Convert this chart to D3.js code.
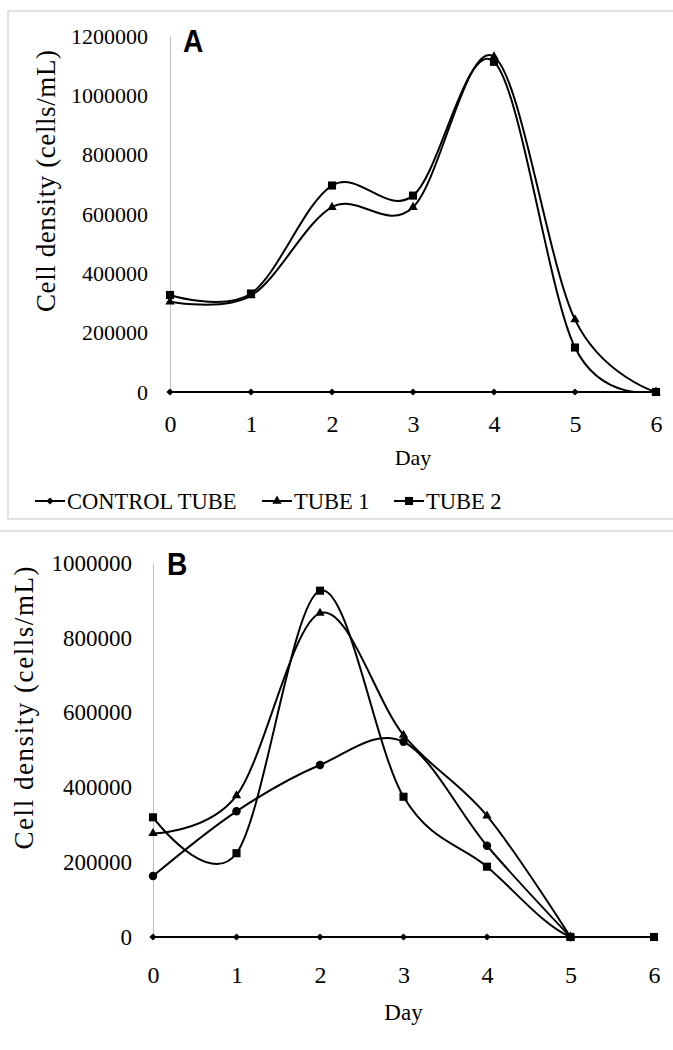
<!DOCTYPE html>
<html>
<head>
<meta charset="utf-8">
<script src="https://cdn.jsdelivr.net/npm/d3@7"></script>
<style>
  html, body { margin: 0; padding: 0; background: #fff; }
  svg { display: block; }
  text { font-family: "Liberation Serif", "Times New Roman", serif; fill: #000; }
</style>
</head>
<body>
<svg id="chart" width="673" height="1050"></svg>
<script>
// ---------- DATA ----------
const days = [0, 1, 2, 3, 4, 5, 6];

// Panel A
const aControl = [0, 0, 0, 0, 0, 0, 0];
const aTube1   = [304000, 325000, 623000, 623000, 1130000, 244000, 0];
const aTube2   = [327000, 332000, 696000, 662000, 1113000, 150000, 0];
const aTicks   = [0, 200000, 400000, 600000, 800000, 1000000, 1200000];

// Panel B
const bControl = [0, 0, 0, 0, 0, 0, 0];
const bTube1   = [277000, 378000, 866000, 540000, 324000, 0, null]; // triangles
const bTube2   = [320000, 224000, 926000, 375000, 188000, 0, 0];    // squares
const bTube3   = [163000, 336000, 460000, 522000, 244000, 0, null]; // circles
const bTicks   = [0, 200000, 400000, 600000, 800000, 1000000];

const legendLabels = ["CONTROL TUBE", "TUBE 1", "TUBE 2"];
const yTitle = "Cell density (cells/mL)";
const xTitle = "Day";

// ---------- DRAW ----------
const svg = d3.select("#chart");

// panel frames
svg.append("rect").attr("x", 8).attr("y", 11).attr("width", 700).attr("height", 508)
  .attr("fill", "none").attr("stroke", "#d9d9d9").attr("stroke-width", 1.5);
svg.append("line").attr("x1", 0).attr("x2", 673).attr("y1", 531).attr("y2", 531)
  .attr("stroke", "#d9d9d9").attr("stroke-width", 1.5);

const diamond = {
  draw(ctx, size) {
    const r = Math.sqrt(size / 2);
    ctx.moveTo(0, -r); ctx.lineTo(r, 0); ctx.lineTo(0, r); ctx.lineTo(-r, 0); ctx.closePath();
  }
};
const markers = {
  diamond: d3.symbol().type(diamond).size(26),
  triangle: d3.symbol().type(d3.symbolTriangle).size(38),
  square: d3.symbol().type(d3.symbolSquare).size(66),
  circle: d3.symbol().type(d3.symbolCircle).size(56)
};

let clipId = 0;
function drawPanel(cfg) {
  const g = svg.append("g");
  const x = d3.scaleLinear().domain([0, 6]).range([cfg.x0, cfg.x1]);
  const y = d3.scaleLinear().domain([0, cfg.ymax]).range([cfg.y0, cfg.y1]);

  // y axis
  const ya = g.append("g").attr("transform", `translate(${cfg.x0},0)`)
    .call(d3.axisLeft(y).tickValues(cfg.ticks).tickFormat(d3.format("d"))
      .tickSize(0).tickPadding(cfg.yPad));
  ya.select(".domain").attr("stroke", "#bfbfbf").attr("stroke-width", 1);
  ya.selectAll("text").style("font-family", '"Liberation Serif", serif')
    .style("font-size", cfg.tickFont + "px").attr("fill", "#000");

  // x axis
  const xa = g.append("g").attr("transform", `translate(0,${cfg.y0})`)
    .call(d3.axisBottom(x).tickValues(days).tickFormat(d3.format("d"))
      .tickSize(0).tickPadding(cfg.xPad));
  xa.select(".domain").remove();
  xa.selectAll("text").style("font-family", '"Liberation Serif", serif')
    .style("font-size", cfg.xTickFont + "px").attr("fill", "#000");

  // axis titles
  g.append("text").attr("x", (cfg.x0 + cfg.x1) / 2).attr("y", cfg.dayY)
    .attr("text-anchor", "middle").style("font-size", cfg.dayFont + "px").text(xTitle);
  g.append("text")
    .attr("transform", `translate(${cfg.titleX},${cfg.titleY}) rotate(-90)`)
    .attr("text-anchor", "middle").style("font-size", cfg.titleFont + "px")
    .attr("textLength", cfg.titleLen).attr("lengthAdjust", "spacing")
    .text(yTitle);

  // panel letter
  g.append("text").attr("transform", `translate(${cfg.letterX},${cfg.letterY}) scale(0.88,1)`)
    .style("font-family", '"Liberation Sans", Arial, sans-serif').style("font-weight", "bold")
    .style("font-size", "32px").text(cfg.letter);

  // clip so smoothing does not dip below the zero line
  const id = "clip" + (clipId++);
  g.append("clipPath").attr("id", id).append("rect")
    .attr("x", cfg.x0 - 10).attr("y", 0).attr("width", cfg.x1 - cfg.x0 + 20).attr("height", cfg.y0 + 1);

  const line = d3.line().defined(d => d[1] !== null)
    .x(d => x(d[0])).y(d => y(d[1])).curve(d3.curveCardinal.tension(0));

  const lines = g.append("g").attr("clip-path", `url(#${id})`);
  cfg.series.forEach(s => {
    const pts = days.map((d, i) => [d, s.values[i]]);
    lines.append("path").datum(pts).attr("d", line)
      .attr("fill", "none").attr("stroke", "#000").attr("stroke-width", 2);
  });
  cfg.series.forEach(s => {
    const pts = days.map((d, i) => [d, s.values[i]]).filter(p => p[1] !== null);
    g.selectAll(null).data(pts).enter().append("path")
      .attr("d", markers[s.marker])
      .attr("transform", p => `translate(${x(p[0])},${y(p[1])})`)
      .attr("fill", "#000");
  });
  return g;
}

drawPanel({
  x0: 170, x1: 656, y0: 392, y1: 36, ymax: 1200000, ticks: aTicks,
  yPad: 22, xPad: 23, tickFont: 22, xTickFont: 24, dayY: 465, dayFont: 22,
  titleX: 55, titleY: 181, titleFont: 27, titleLen: 262,
  letter: "A", letterX: 183, letterY: 52,
  series: [
    { values: aControl, marker: "diamond" },
    { values: aTube1, marker: "triangle" },
    { values: aTube2, marker: "square" }
  ]
});

drawPanel({
  x0: 153, x1: 654, y0: 937, y1: 563, ymax: 1000000, ticks: bTicks,
  yPad: 21, xPad: 29, tickFont: 23, xTickFont: 24, dayY: 1020, dayFont: 23,
  titleX: 33, titleY: 708, titleFont: 27, titleLen: 283,
  letter: "B", letterX: 167, letterY: 575,
  series: [
    { values: bControl, marker: "diamond" },
    { values: bTube3, marker: "circle" },
    { values: bTube1, marker: "triangle" },
    { values: bTube2, marker: "square" }
  ]
});

// legend (panel A)
const legendItems = [
  { label: legendLabels[0], marker: "diamond", x: 35 },
  { label: legendLabels[1], marker: "triangle", x: 262 },
  { label: legendLabels[2], marker: "square", x: 394 }
];
const lg = svg.append("g").attr("transform", "translate(0,501)");
legendItems.forEach(it => {
  lg.append("line").attr("x1", it.x).attr("x2", it.x + 30).attr("y1", 0).attr("y2", 0)
    .attr("stroke", "#000").attr("stroke-width", 2);
  lg.append("path").attr("d", markers[it.marker]).attr("transform", `translate(${it.x + 15},0)`)
    .attr("fill", "#000");
  lg.append("text").attr("x", it.x + 32).attr("y", 8).style("font-size", "22.5px").text(it.label);
});
</script>
</body>
</html>
